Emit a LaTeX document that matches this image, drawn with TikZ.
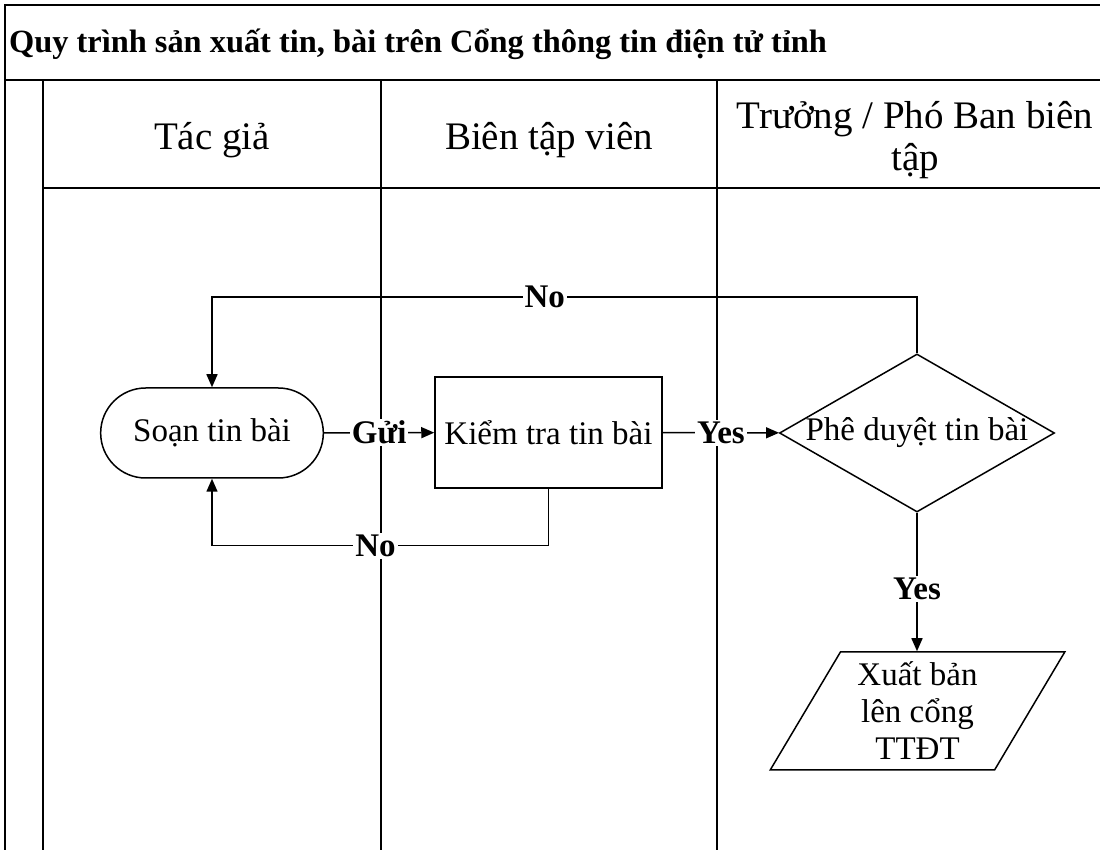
\documentclass[tikz,border=0pt]{standalone}
\usepackage{fontspec}
\setmainfont{Liberation Serif}
\usetikzlibrary{shapes.geometric,shapes.misc,arrows.meta}
\tikzset{>={Triangle[length=6.5pt,width=5.5pt]}}
\newcommand*{\nf}{\fontsize{16.5}{18.5}\selectfont}
\newcommand*{\hf}{\fontsize{19.5}{21}\selectfont}

\begin{document}
\begin{tikzpicture}[x=0.5pt,y=-0.5pt,
  lane/.style={line width=1.2pt},
  flow/.style={line width=0.75pt,->},
  lbl/.style={fill=white,inner sep=1pt,font=\nf\bfseries},
  hdr/.style={align=center,font=\hf},
  term/.style={draw,line width=0.75pt,rounded rectangle,minimum width=118pt,minimum height=45pt,font=\nf},
  proc/.style={draw,line width=0.75pt,minimum width=113.5pt,minimum height=55.5pt,font=\nf},
  decide/.style={draw,line width=0.75pt,diamond,aspect=1.74,inner sep=0pt,minimum width=137.5pt,minimum height=79pt,font=\nf},
  io/.style={draw,line width=0.75pt,trapezium,trapezium left angle=61,trapezium right angle=119,
    trapezium stretches=true,inner sep=1pt,minimum width=147.5pt,minimum height=59pt,align=center,font=\nf}]
\useasboundingbox (0,0) rectangle (1100,850);
% pool and lanes
\draw[lane] (5,850) -- (5,5) -- (1100,5);
\draw[lane] (5,80) -- (1100,80);
\draw[lane] (43,188) -- (1100,188);
\draw[lane] (43,80) -- (43,850);
\foreach \x in {381,717}
  \draw[lane] (\x,80) -- (\x,850);
\node[anchor=west,font=\fontsize{16.2}{18}\selectfont\bfseries] (title) at (2,44)
  {Quy trình sản xuất tin, bài trên Cổng thông tin điện tử tỉnh};
\node[hdr] (tacgia) at (212,140) {Tác giả};
\node[hdr] (btv) at (549,140) {Biên tập viên};
\node[hdr] (truongban) at (915,140) {Trưởng / Phó Ban biên\\tập};
% steps
\node[term] (soan) at (212,433) {Soạn tin bài};
\node[proc] (kiemtra) at (548.5,432.5) {Kiểm tra tin bài};
\node[decide] (pheduyet) at (917,433) {Phê duyệt tin bài};
\node[io] (xuatban) at (917.5,711) {Xuất bản\\lên cổng\\TTĐT};
% flows
\draw[flow] (soan) -- node[lbl] {Gửi} (kiemtra);
\draw[flow] (kiemtra) -- node[lbl] {Yes} (pheduyet);
\draw[flow] (pheduyet.north) -- ++(0,-56) -| node[lbl,pos=0.264] {No} (soan.north);
\draw[flow] (kiemtra.south) -- ++(0,57) -| node[lbl,pos=0.257] {No} (soan.south);
\draw[flow] (pheduyet.south) -- node[lbl,pos=0.55] {Yes} (pheduyet.south |- xuatban.north);
\end{tikzpicture}
\end{document}
